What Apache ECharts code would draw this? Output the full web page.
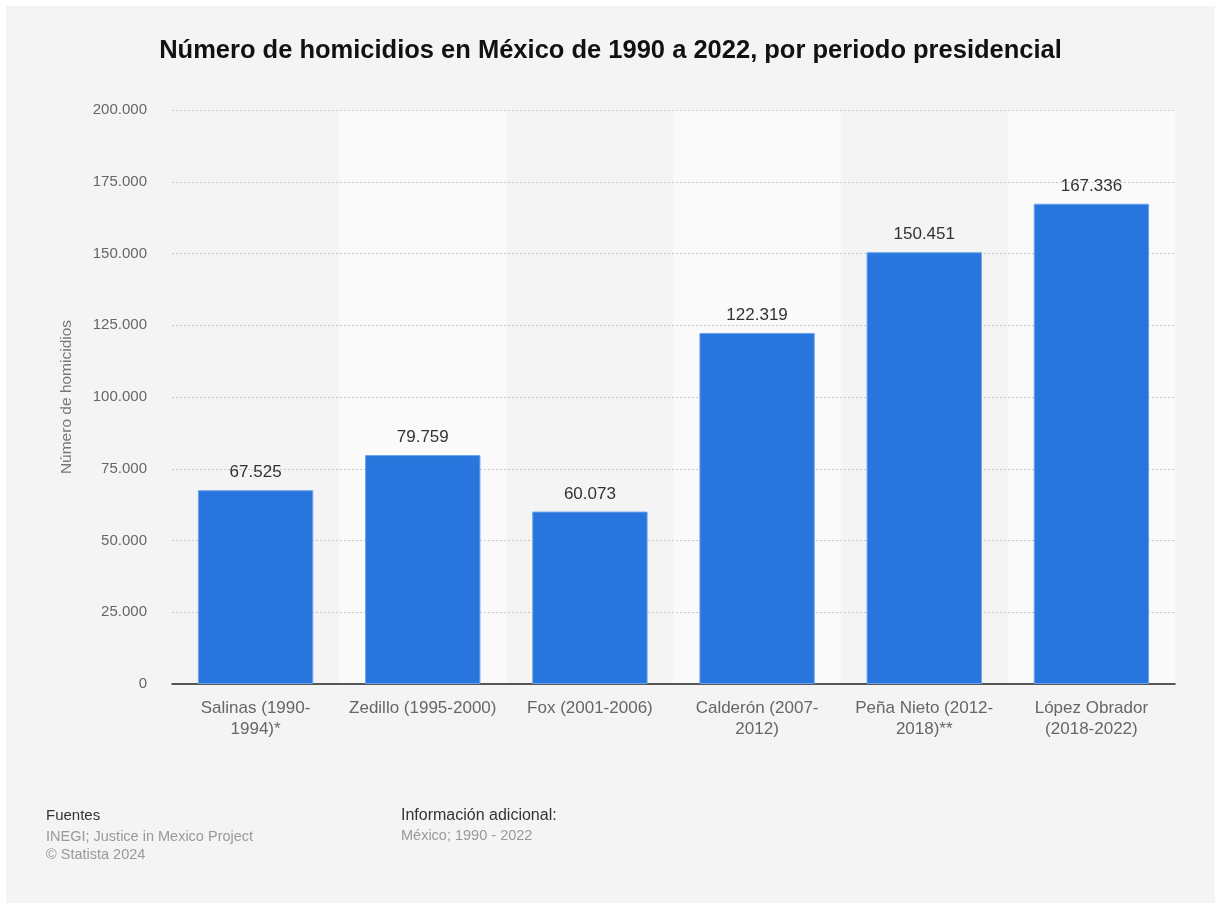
<!DOCTYPE html>
<html><head><meta charset="utf-8">
<script src="https://cdn.jsdelivr.net/npm/echarts@6/dist/echarts.min.js"></script>
<style>html,body{margin:0;padding:0;background:#fff}#c{width:1221px;height:905px}</style>
</head><body><div id="c"></div>
<script>
const categories = ['Salinas (1990-\n1994)*', 'Zedillo (1995-2000)', 'Fox (2001-2006)', 'Calderón (2007-\n2012)', 'Peña Nieto (2012-\n2018)**', 'López Obrador\n(2018-2022)'];
const values = [67525, 79759, 60073, 122319, 150451, 167336];
const titleText = 'Número de homicidios en México de 1990 a 2022, por periodo presidencial';
const yAxisName = 'Número de homicidios';

const fmt = v => String(v).replace(/\B(?=(\d{3})+(?!\d))/g, '.');
const FONT = 'Liberation Sans, Arial, sans-serif';
const chart = echarts.init(document.getElementById('c'), null, {renderer: 'canvas'});
chart.setOption({
  animation: false,
  backgroundColor: '#ffffff',
  graphic: [
    {type: 'rect', shape: {x: 6, y: 6, width: 1209, height: 897}, style: {fill: '#f4f4f4'}, z: -10},
    {type: 'text', left: 46, top: 808, style: {text: 'Fuentes', fill: '#333', font: '15px ' + FONT}},
    {type: 'text', left: 46, top: 828, style: {text: 'INEGI; Justice in Mexico Project\n© Statista 2024', fill: '#999', font: '14.5px ' + FONT, lineHeight: 18}},
    {type: 'text', left: 401, top: 808, style: {text: 'Información adicional:', fill: '#333', font: '16px ' + FONT}},
    {type: 'text', left: 401, top: 828, style: {text: 'México; 1990 - 2022', fill: '#999', font: '14.5px ' + FONT}}
  ],
  title: {
    text: titleText, left: 'center', top: 33,
    textStyle: {fontFamily: FONT, fontSize: 25.5, fontWeight: 'bold', color: '#111'}
  },
  grid: {left: 172, right: 46, top: 110, bottom: 221},
  xAxis: {
    type: 'category', data: categories, z: 0,
    axisLine: {lineStyle: {color: '#222', width: 1.5}},
    axisTick: {show: false},
    axisLabel: {color: '#666', fontFamily: FONT, fontSize: 17, lineHeight: 21, margin: 14, interval: 0},
    splitArea: {show: true, areaStyle: {color: ['rgba(0,0,0,0)', '#fafafa']}}
  },
  yAxis: {
    type: 'value', min: 0, max: 200000, interval: 25000, z: 1,
    name: yAxisName, nameLocation: 'middle', nameGap: 97, nameRotate: 90,
    nameTextStyle: {color: '#777', fontFamily: FONT, fontSize: 15.5},
    axisLine: {show: false}, axisTick: {show: false},
    axisLabel: {color: '#666', fontFamily: FONT, fontSize: 15, margin: 25, formatter: fmt},
    splitLine: {showMinLine: false, lineStyle: {color: '#c8c8c8', type: [2, 2], width: 1}}
  },
  series: [{
    type: 'bar', data: values, barWidth: '69%', z: 2,
    itemStyle: {color: '#2876dd', borderColor: '#6aa3ea', borderWidth: 1},
    label: {show: true, position: 'top', distance: 9, color: '#333', fontFamily: FONT, fontSize: 17, formatter: p => fmt(p.value)}
  }]
});
</script></body></html>
